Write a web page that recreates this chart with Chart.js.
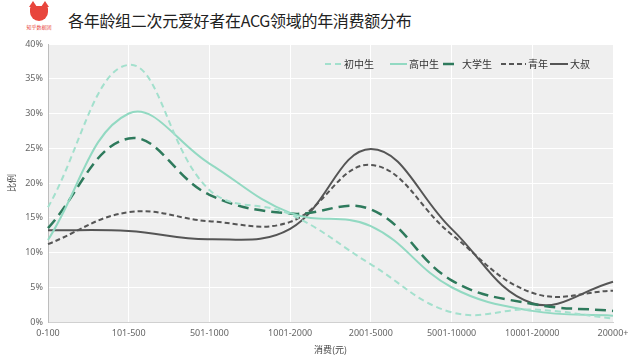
<!DOCTYPE html>
<html lang="zh-CN">
<head>
    <meta charset="UTF-8">
    <title>各年龄组二次元爱好者在ACG领域的年消费额分布</title>
    <script src="https://cdn.jsdelivr.net/npm/chart.js"></script>
    <style>
        html, body { margin: 0; padding: 0; background: #fff; }
        body { width: 640px; height: 363px; position: relative; overflow: hidden;
               font-family: "Noto Sans CJK SC", "Noto Sans", sans-serif; }
        .logo { position: absolute; left: 24px; top: 6px; width: 30px; text-align: center; }
        .logo .head { width: 18px; height: 15px; margin: 0 auto; background: #e8453c;
                      border-radius: 3px 3px 9px 9px; position: relative; }
        .logo .head:before, .logo .head:after { content: ""; position: absolute; top: -5px;
                      border-left: 4px solid transparent; border-right: 4px solid transparent;
                      border-bottom: 6px solid #e8453c; }
        .logo .head:before { left: -1px; }
        .logo .head:after { right: -1px; }
        .logo .name { font-size: 5px; color: #e8453c; margin-top: 2px; white-space: nowrap; }
        h1 { position: absolute; left: 68px; top: 8px; margin: 0; font-size: 16px;
             font-weight: 400; color: #222; letter-spacing: -0.3px; }
        .chart-container { position: absolute; left: 0; top: 0; width: 640px; height: 363px; }
    </style>
</head>
<body>

<div class="logo"><div class="head"></div><div class="name">知乎数据团</div></div>
<h1>各年龄组二次元爱好者在ACG领域的年消费额分布</h1>

<div class="chart-container">
    <canvas id="spendChart"></canvas>
</div>

<script>
    // 消费区间
    const labels = ['0-100', '101-500', '501-1000', '1001-2000', '2001-5000', '5001-10000', '10001-20000', '20000+'];
    // 各年龄组比例 (%)
    const juniorHigh = [16.5, 37, 19, 15.5, 8.3, 1.4, 1.8, 0.5];
    const seniorHigh = [11.8, 30, 22.8, 15.7, 13.8, 5, 1.6, 0.9];
    const college    = [13.5, 26.4, 18.3, 15.6, 16.2, 6, 2.6, 1.6];
    const youth      = [11.2, 15.8, 14.5, 14.4, 22.6, 12.6, 4.2, 4.5];
    const uncle      = [13.2, 13.1, 11.9, 13.4, 24.9, 13.4, 2.7, 5.8];
    const seriesNames = ['初中生', '高中生', '大学生', '青年', '大叔'];

    const mint = '#92d9c2';
    const green = '#2e7a5c';
    const gray = '#555555';

    // 绘图区灰色背景
    const plotBg = {
        id: 'plotBg',
        beforeDraw(chart) {
            const { ctx, chartArea: a } = chart;
            ctx.save();
            ctx.fillStyle = '#efefef';
            ctx.fillRect(a.left, a.top, a.right - a.left, a.bottom - a.top);
            ctx.restore();
        }
    };

    // 图例画在绘图区右上角
    const innerLegend = {
        id: 'innerLegend',
        afterDraw(chart) {
            const ctx = chart.ctx;
            const xs = [325, 390, 443, 501, 550];
            const lens = [17, 17, 17, 25, 18];
            const y = 64;
            ctx.save();
            ctx.font = '10px "Noto Sans CJK SC"';
            ctx.textBaseline = 'middle';
            chart.data.datasets.forEach((ds, i) => {
                ctx.strokeStyle = ds.borderColor;
                ctx.lineWidth = ds.borderWidth;
                ctx.setLineDash(ds.borderDash || []);
                ctx.beginPath();
                ctx.moveTo(xs[i], y);
                ctx.lineTo(xs[i] + lens[i], y);
                ctx.stroke();
                ctx.setLineDash([]);
                ctx.fillStyle = '#333';
                ctx.fillText(ds.label, xs[i] + lens[i] + 2, y);
            });
            ctx.restore();
        }
    };

    const ctx = document.getElementById('spendChart').getContext('2d');
    new Chart(ctx, {
        type: 'line',
        data: {
            labels: labels,
            datasets: [
                { label: seriesNames[0], data: juniorHigh, borderColor: '#a3e0cd', borderWidth: 2, borderDash: [6, 4] },
                { label: seriesNames[1], data: seniorHigh, borderColor: mint, borderWidth: 2 },
                { label: seriesNames[2], data: college, borderColor: green, borderWidth: 2.5, borderDash: [11, 6] },
                { label: seriesNames[3], data: youth, borderColor: gray, borderWidth: 2, borderDash: [5, 3] },
                { label: seriesNames[4], data: uncle, borderColor: gray, borderWidth: 2 }
            ]
        },
        options: {
            responsive: true,
            maintainAspectRatio: false,
            animation: false,
            layout: { padding: { top: 44, right: 27, left: 0, bottom: 0 } },
            elements: {
                line: { tension: 0.4, fill: false },
                point: { radius: 0 }
            },
            plugins: {
                legend: { display: false },
                tooltip: { enabled: false }
            },
            scales: {
                x: {
                    offset: false,
                    grid: { color: '#ffffff', lineWidth: 1, drawTicks: false },
                    border: { color: '#d0d0d0' },
                    ticks: { color: '#666', font: { size: 9, family: 'Noto Sans' }, padding: 6, maxRotation: 0, autoSkip: false },
                    title: { display: true, text: '消费(元)', color: '#444', font: { size: 9, family: 'Noto Sans CJK SC' }, padding: { top: 0, bottom: 8 } },
                    afterFit(scale) { scale.height = 41; }
                },
                y: {
                    min: 0,
                    max: 40,
                    grid: { color: '#ffffff', lineWidth: 1, drawTicks: false },
                    border: { color: '#bdbdbd' },
                    ticks: { stepSize: 5, color: '#666', font: { size: 9, family: 'Noto Sans' }, padding: 5,
                             callback: v => v + '%' },
                    title: { display: true, text: '比例', color: '#444', font: { size: 9, family: 'Noto Sans CJK SC' }, padding: { top: 6, bottom: 0 } },
                    afterFit(scale) { scale.width = 48; }
                }
            }
        },
        plugins: [plotBg, innerLegend]
    });
</script>

</body>
</html>
